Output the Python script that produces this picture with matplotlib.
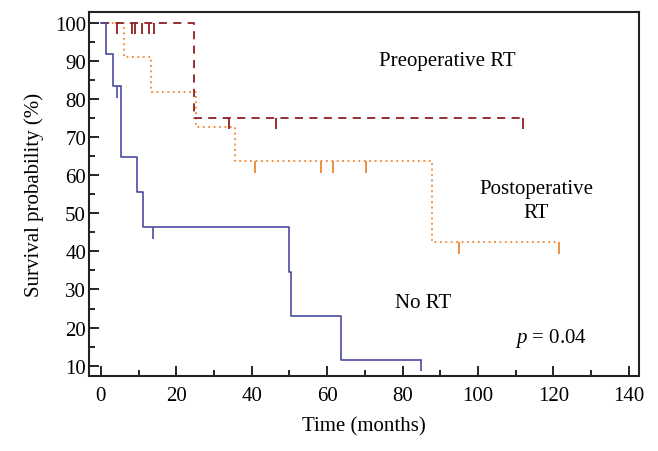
import matplotlib
matplotlib.use("Agg")
import matplotlib.pyplot as plt
from matplotlib.ticker import MultipleLocator

plt.rcParams.update({
    "font.family": "serif",
    "font.serif": ["Liberation Serif", "DejaVu Serif"],
    "font.size": 15,
    "mathtext.fontset": "custom",
    "mathtext.it": "Liberation Serif:italic",
    "mathtext.rm": "Liberation Serif",
})

# Kaplan-Meier steps (time in months, survival in %)
no_rt_t = [0, 1.3, 3.1, 5.3, 9.5, 11.3, 49.9, 50.4, 63.7, 84.8]
no_rt_s = [100, 91.7, 83.3, 64.8, 55.6, 46.3, 34.7, 23.1, 11.6, 11.6]
no_rt_cens_t = [4.4, 13.9, 84.8]
no_rt_cens_s = [83.3, 46.3, 11.6]

pre_t = [0, 24.7, 112.0]
pre_s = [100, 75.0, 75.0]
pre_cens_t = [4.2, 8.3, 9.0, 10.9, 12.8, 14.0, 34.0, 46.4, 112.0]
pre_cens_s = [100, 100, 100, 100, 100, 100, 75.0, 75.0, 75.0]

post_t = [0, 6.1, 13.4, 25.2, 35.5, 87.7, 121.6]
post_s = [100, 90.9, 81.8, 72.7, 63.6, 42.4, 42.4]
post_cens_t = [41.0, 58.3, 61.6, 70.2, 95.1, 121.6]
post_cens_s = [63.6, 63.6, 63.6, 63.6, 42.4, 42.4]

c_blue = "#4b4ba3"
c_red = "#8e1f22"
c_orange = "#f0862e"
tick_len = 3.0

fig = plt.figure(figsize=(6.58, 4.52), dpi=100)
ax = fig.add_axes([0.135, 0.166, 0.836, 0.805])

ax.step(post_t, post_s, where="post", color=c_orange, lw=1.3, ls=(0, (1, 2)))
ax.vlines(post_cens_t, [s - tick_len for s in post_cens_s], post_cens_s, color=c_orange, lw=1.3)

ax.step(pre_t, pre_s, where="post", color=c_red, lw=1.3, ls=(0, (4.5, 3.5)))
ax.vlines(pre_cens_t, [s - tick_len for s in pre_cens_s], pre_cens_s, color=c_red, lw=1.3)

ax.step(no_rt_t, no_rt_s, where="post", color=c_blue, lw=1.2)
ax.vlines(no_rt_cens_t, [s - tick_len for s in no_rt_cens_s], no_rt_cens_s, color=c_blue, lw=1.2)

ax.set_xlim(-3.2, 142.7)
ax.set_ylim(7.3, 102.8)
ax.xaxis.set_major_locator(MultipleLocator(20))
ax.xaxis.set_minor_locator(MultipleLocator(10))
ax.yaxis.set_minor_locator(MultipleLocator(5))
ax.set_yticks(range(10, 101, 10))
ax.tick_params(which="both", direction="in", width=1.2, labelsize=15, colors="black")
ax.tick_params(which="major", length=7)
ax.tick_params(which="minor", length=4)
ax.tick_params(axis="x", which="major", pad=7)
ax.tick_params(axis="y", which="major", pad=2)
for sp in ax.spines.values():
    sp.set_linewidth(1.5)
    sp.set_color("#222222")

ax.set_xlabel("Time (months)", fontsize=15, labelpad=8)
ax.set_ylabel("Survival probability (%)", fontsize=15, labelpad=8)

ax.text(91.8, 90, "Preoperative RT", fontsize=15, ha="center", va="center")
ax.text(115.5, 53.4, "Postoperative\nRT", fontsize=15, ha="center", va="center", linespacing=1.35)
ax.text(85.5, 26.7, "No RT", fontsize=15, ha="center", va="center")
ax.text(119.5, 17.5, "$p$ = 0.04", fontsize=15, ha="center", va="center")

plt.savefig("out.png", dpi=100)
